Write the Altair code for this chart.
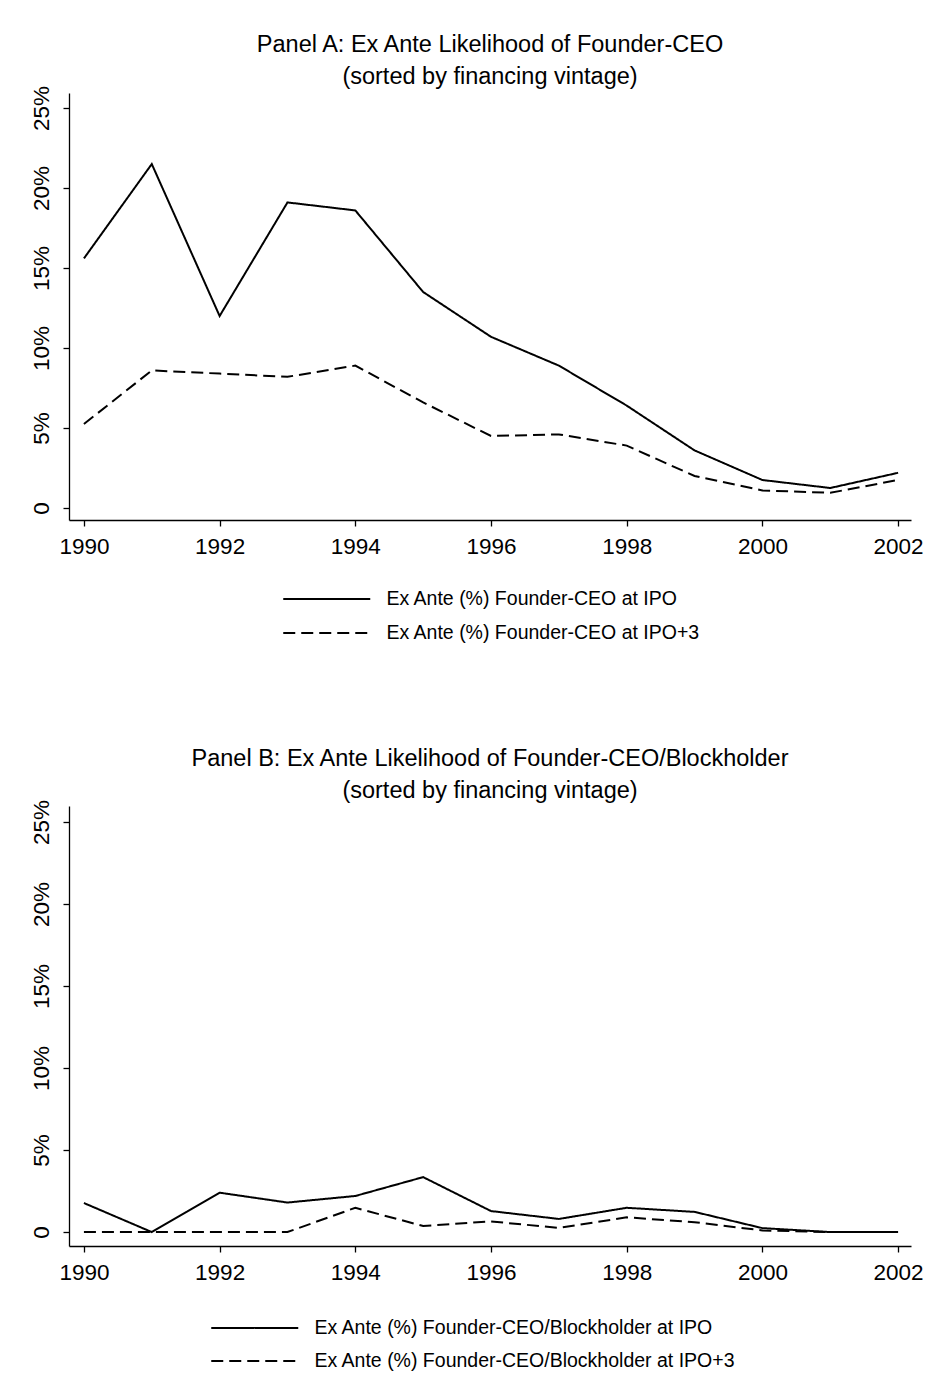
import altair as alt
import pandas as pd

years = list(range(1990, 2003))
a_ipo = [15.6, 21.5, 12.0, 19.1, 18.6, 13.5, 10.7, 8.9, 6.4, 3.6, 1.75, 1.25, 2.2]
a_ipo3 = [5.25, 8.6, 8.4, 8.2, 8.9, 6.6, 4.5, 4.6, 3.9, 2.0, 1.1, 0.95, 1.75]
b_ipo = [1.77, 0.0, 2.4, 1.8, 2.2, 3.35, 1.28, 0.8, 1.48, 1.23, 0.24, 0.0, 0.0]
b_ipo3 = [0.0, 0.0, 0.0, 0.0, 1.48, 0.37, 0.65, 0.25, 0.9, 0.6, 0.1, 0.0, 0.0]

names_a = ["Ex Ante (%) Founder-CEO at IPO", "Ex Ante (%) Founder-CEO at IPO+3"]
names_b = ["Ex Ante (%) Founder-CEO/Blockholder at IPO",
           "Ex Ante (%) Founder-CEO/Blockholder at IPO+3"]
title_a = ["Panel A: Ex Ante Likelihood of Founder-CEO", "(sorted by financing vintage)"]
title_b = ["Panel B: Ex Ante Likelihood of Founder-CEO/Blockholder", "(sorted by financing vintage)"]
x_ticks = [1990, 1992, 1994, 1996, 1998, 2000, 2002]
y_ticks = [0, 5, 10, 15, 20, 25]

FONT = "Liberation Sans"
SYM_LEN = 87          # length of legend line sample
SYM_SIDE = SYM_LEN / 2  # symbol box side (path spans twice the box)


def panel(title, names, s1, s2, height, ydom, leg_x, leg_y, row_pad):
    df = pd.DataFrame({
        "year": years + years,
        "value": s1 + s2,
        "series": [names[0]] * len(years) + [names[1]] * len(years),
    })
    return alt.Chart(df).mark_line(strokeWidth=2, color="black").encode(
        x=alt.X("year:Q",
                scale=alt.Scale(domain=[1989.78, 2002.19], nice=False, zero=False),
                axis=alt.Axis(values=x_ticks, format="d", title=None, grid=False,
                              labelPadding=9, tickSize=6, labelFontSize=22.5,
                              labelFlush=False)),
        y=alt.Y("value:Q",
                scale=alt.Scale(domain=ydom, nice=False, zero=False),
                axis=alt.Axis(values=y_ticks, title=None, grid=False,
                              labelExpr="datum.value == 0 ? '0' : datum.value + '%'",
                              labelAngle=270, labelAlign="center", labelBaseline="bottom",
                              labelPadding=10, tickSize=6, labelFontSize=22.5)),
        strokeDash=alt.StrokeDash(
            "series:N",
            scale=alt.Scale(domain=names, range=[[1, 0], [12, 6]]),
            legend=alt.Legend(title=None, orient="none",
                              legendX=leg_x + SYM_SIDE / 2, legendY=leg_y,
                              direction="vertical", symbolType="M-2,0H2",
                              symbolSize=SYM_SIDE ** 2, symbolStrokeWidth=2,
                              symbolFillColor="transparent",
                              symbolStrokeColor="black", labelFontSize=19.5,
                              labelFont=FONT, labelColor="black", labelLimit=800,
                              labelOffset=15 + SYM_SIDE / 2, rowPadding=row_pad,
                              padding=0),
        ),
    ).properties(
        width=842, height=height,
        title=alt.Title(text=title, fontSize=23.5, font=FONT, fontWeight="normal",
                        color="black", anchor="middle", lineHeight=32, offset=-3),
    )


pa = panel(title_a, names_a, a_ipo, a_ipo3, 427, [-0.75, 25.94], 213, 483, 1)
pb = panel(title_b, names_b, b_ipo, b_ipo3, 440, [-0.85, 25.98], 141, 499, -4)

chart = alt.vconcat(pa, pb, spacing=104).resolve_scale(
    strokeDash="independent"
).resolve_legend(strokeDash="independent").properties(
    padding={"left": 21, "top": 25, "right": 0, "bottom": 0}
).configure_view(stroke=None).configure_axis(
    domainColor="black", tickColor="black", domainWidth=1.3, tickWidth=1.3,
    labelFont=FONT, labelColor="black",
)

chart.save("out.html", embed_options={"renderer": "svg", "actions": False})
